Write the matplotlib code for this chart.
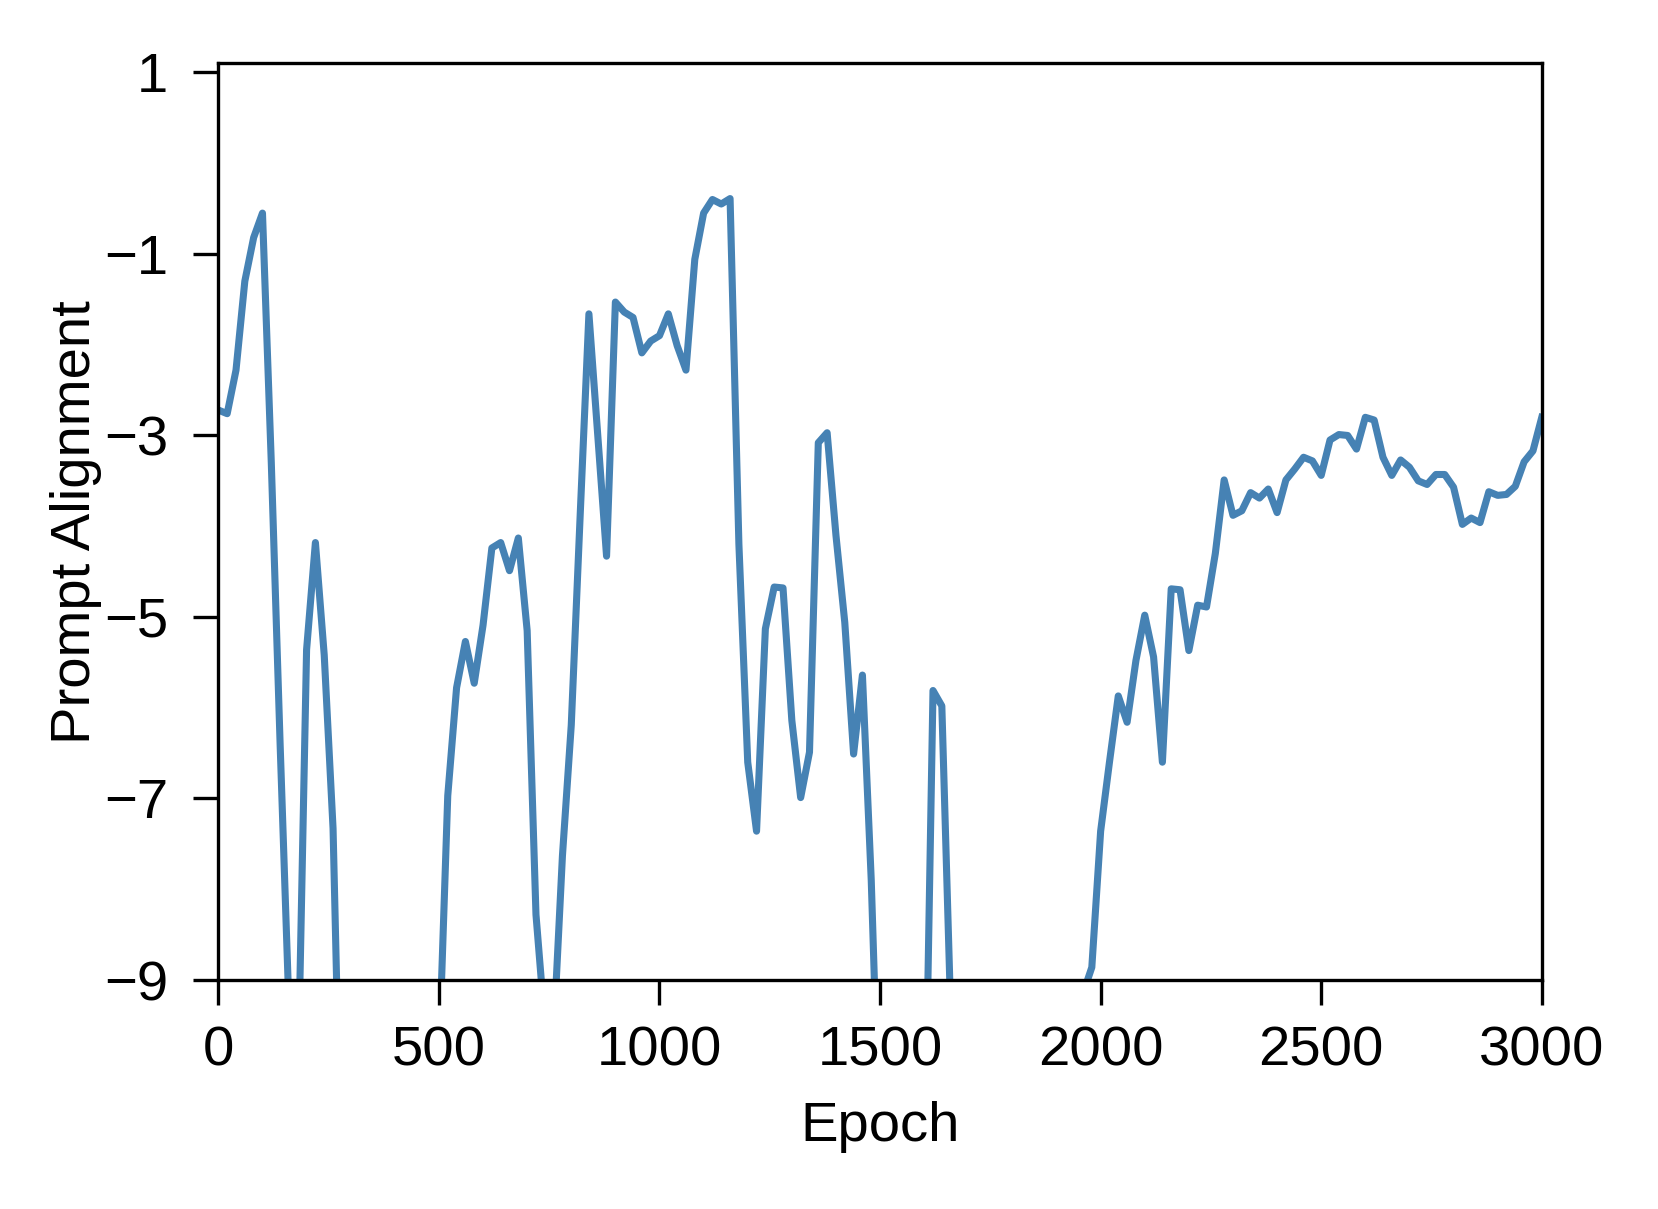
import numpy as np
import matplotlib
matplotlib.use("Agg")
import matplotlib.pyplot as plt

plt.rcParams['font.family'] = ['Liberation Sans', 'DejaVu Sans']

# Epochs are logged every 20 steps
epochs = np.arange(0, 3001, 20)

# Prompt alignment values (values below -9 are off-scale)
alignment = [
    -2.72, -2.76, -2.28, -1.30, -0.82, -0.55, -3.3, -6.4, -9.3, -10.2,
    -5.36, -4.18, -5.42, -7.33, -11.5, -12.0, -11.2, -10.8, -11.6, -12.3,
    -11.4, -10.9, -11.7, -11.0, -10.5, -9.87, -6.97, -5.78, -5.27, -5.73,
    -5.09, -4.24, -4.18, -4.49, -4.13, -5.15, -8.28, -9.48, -9.59, -7.63,
    -6.19, -3.9, -1.66, -3.0, -4.33, -1.53, -1.64, -1.70, -2.09, -1.96,
    -1.90, -1.66, -2.01, -2.28, -1.06, -0.55, -0.40, -0.45, -0.39, -4.2,
    -6.6, -7.36, -5.13, -4.67, -4.68, -6.14, -6.99, -6.49, -3.08, -2.97,
    -4.1, -5.06, -6.51, -5.64, -7.9, -11.0, -12.1, -11.8, -12.6, -11.9,
    -11.36, -5.81, -5.98, -9.34, -11.2, -12.0, -11.5, -12.4, -11.8, -12.2,
    -11.6, -11.1, -11.9, -11.3, -10.8, -11.4, -10.6, -10.1, -9.15, -8.86,
    -7.36, -6.6, -5.87, -6.16, -5.48, -4.98, -5.44, -6.60, -4.69, -4.70,
    -5.37, -4.87, -4.89, -4.30, -3.49, -3.88, -3.83, -3.63, -3.69, -3.59,
    -3.85, -3.49, -3.37, -3.24, -3.28, -3.44, -3.05, -2.99, -3.00, -3.15,
    -2.80, -2.83, -3.24, -3.44, -3.27, -3.35, -3.50, -3.54, -3.43, -3.43,
    -3.57, -3.98, -3.91, -3.96, -3.62, -3.66, -3.65, -3.56, -3.29, -3.17,
    -2.80,
]

x_ticks = [0, 500, 1000, 1500, 2000, 2500, 3000]
y_ticks = [1, -1, -3, -5, -7, -9]

fig = plt.figure(figsize=(1658 / 300, 1209 / 300), dpi=300)
ax = fig.add_axes([0.1317, 0.1894, 0.9299 - 0.1317, 0.9476 - 0.1894])

ax.plot(epochs, alignment, color='steelblue', linewidth=1.7)

ax.set_xlim(0, 3000)
ax.set_ylim(-9, 1.1)
ax.set_xticks(x_ticks)
ax.set_yticks(y_ticks)
ax.tick_params(axis='both', direction='out', length=6, width=0.8, labelsize=13.5)
ax.tick_params(axis='x', pad=5)
ax.tick_params(axis='y', pad=6)
for sp in ax.spines.values():
    sp.set_linewidth(0.8)

ax.set_xlabel("Epoch", fontsize=13.5, labelpad=5.5)
ax.set_ylabel("Prompt Alignment", fontsize=13.5, labelpad=0.5)

fig.savefig("out.png", dpi=300)
